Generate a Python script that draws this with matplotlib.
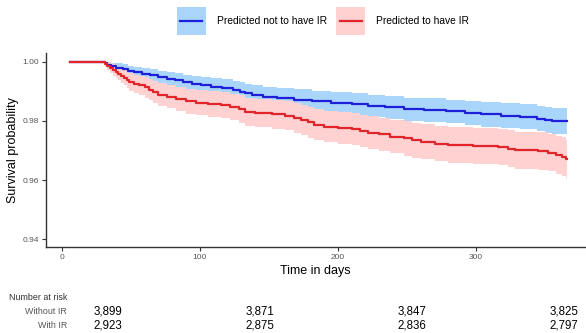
import matplotlib
matplotlib.use("Agg")
import matplotlib.pyplot as plt
from matplotlib.patches import Patch, Rectangle
from matplotlib.lines import Line2D
from matplotlib.legend_handler import HandlerBase

plt.rcParams['font.family'] = ['Liberation Sans', 'DejaVu Sans']

# Kaplan-Meier steps (days, survival, 95% band)
dias_sin = [6, 31, 33, 36, 39, 44, 48, 52, 58, 64,
            70, 76, 82, 88, 94, 101, 108, 116, 124, 129,
            133, 138, 146, 156, 168, 181, 195, 210, 222, 234,
            248, 262, 278, 292, 304, 318, 332, 344, 350, 355, 366]
surv_sin = [1.0000, 0.9995, 0.9990, 0.9985, 0.9980, 0.9975, 0.9970, 0.9964, 0.9959, 0.9954,
            0.9948, 0.9943, 0.9937, 0.9930, 0.9925, 0.9921, 0.9916, 0.9911, 0.9905, 0.9899,
            0.9893, 0.9887, 0.9882, 0.9877, 0.9872, 0.9866, 0.9861, 0.9856, 0.9851, 0.9846,
            0.9840, 0.9836, 0.9832, 0.9827, 0.9822, 0.9818, 0.9814, 0.9808, 0.9803, 0.9798, 0.9798]
sup_sin = [1.0000, 1.0000, 1.0000, 0.9997, 0.9994, 0.9991, 0.9987, 0.9983, 0.9979, 0.9975,
           0.9970, 0.9966, 0.9962, 0.9956, 0.9952, 0.9949, 0.9944, 0.9940, 0.9935, 0.9930,
           0.9925, 0.9920, 0.9916, 0.9911, 0.9907, 0.9902, 0.9898, 0.9893, 0.9889, 0.9884,
           0.9879, 0.9876, 0.9872, 0.9868, 0.9863, 0.9860, 0.9856, 0.9851, 0.9847, 0.9842, 0.9842]
inf_sin = [1.0000, 0.9988, 0.9980, 0.9973, 0.9966, 0.9959, 0.9953, 0.9945, 0.9939, 0.9933,
           0.9926, 0.9920, 0.9912, 0.9904, 0.9898, 0.9893, 0.9888, 0.9882, 0.9875, 0.9868,
           0.9861, 0.9854, 0.9848, 0.9843, 0.9837, 0.9830, 0.9824, 0.9819, 0.9813, 0.9808,
           0.9801, 0.9796, 0.9792, 0.9786, 0.9781, 0.9776, 0.9772, 0.9765, 0.9759, 0.9754, 0.9754]

dias_con = [6, 31, 33, 35, 37, 39, 41, 43, 45, 47,
            49, 52, 56, 60, 63, 66, 70, 76, 83, 90,
            97, 106, 115, 122, 128, 133, 140, 152, 162, 168,
            173, 178, 183, 190, 200, 210, 216, 222, 230, 238,
            248, 254, 260, 270, 280, 298, 316, 323, 328, 345,
            352, 358, 362, 365, 366]
surv_con = [1.0000, 0.9993, 0.9986, 0.9979, 0.9972, 0.9966, 0.9960, 0.9953, 0.9946, 0.9939,
            0.9932, 0.9925, 0.9920, 0.9913, 0.9905, 0.9897, 0.9889, 0.9882, 0.9874, 0.9866,
            0.9861, 0.9857, 0.9853, 0.9847, 0.9840, 0.9831, 0.9826, 0.9822, 0.9817, 0.9810,
            0.9803, 0.9795, 0.9787, 0.9781, 0.9777, 0.9773, 0.9766, 0.9760, 0.9754, 0.9747,
            0.9741, 0.9735, 0.9729, 0.9723, 0.9718, 0.9715, 0.9712, 0.9706, 0.9701, 0.9698,
            0.9692, 0.9686, 0.9679, 0.9671, 0.9671]
sup_con = [1.0000, 1.0000, 0.9999, 0.9995, 0.9991, 0.9987, 0.9983, 0.9978, 0.9972, 0.9967,
           0.9962, 0.9956, 0.9952, 0.9947, 0.9940, 0.9934, 0.9927, 0.9921, 0.9914, 0.9908,
           0.9903, 0.9900, 0.9897, 0.9892, 0.9886, 0.9878, 0.9873, 0.9870, 0.9866, 0.9860,
           0.9854, 0.9847, 0.9840, 0.9834, 0.9831, 0.9827, 0.9821, 0.9816, 0.9810, 0.9804,
           0.9799, 0.9794, 0.9788, 0.9783, 0.9778, 0.9776, 0.9773, 0.9768, 0.9763, 0.9761,
           0.9755, 0.9750, 0.9744, 0.9736, 0.9736]
inf_con = [1.0000, 0.9983, 0.9973, 0.9963, 0.9953, 0.9945, 0.9937, 0.9928, 0.9920, 0.9911,
           0.9902, 0.9894, 0.9888, 0.9879, 0.9870, 0.9860, 0.9851, 0.9843, 0.9834, 0.9824,
           0.9819, 0.9814, 0.9809, 0.9802, 0.9794, 0.9784, 0.9779, 0.9774, 0.9768, 0.9760,
           0.9752, 0.9743, 0.9734, 0.9728, 0.9723, 0.9719, 0.9711, 0.9704, 0.9698, 0.9690,
           0.9683, 0.9676, 0.9670, 0.9663, 0.9658, 0.9654, 0.9651, 0.9644, 0.9639, 0.9635,
           0.9629, 0.9622, 0.9614, 0.9606, 0.9606]

etiquetas = ["Predicted not to have IR", "Predicted to have IR"]
filas_riesgo = ["Without IR", "With IR"]
tiempos_riesgo = [0, 100, 200, 300]
riesgo_sin = ["3,899", "3,871", "3,847", "3,825"]
riesgo_con = ["2,923", "2,875", "2,836", "2,797"]

AZUL, AZUL_BANDA = "#1f1fd8", "#a9d5fb"
ROJO, ROJO_BANDA = "#e0262b", "#ffd1d1"
GRIS = "#555555"


class BandaConLinea(HandlerBase):
    # caja de la banda con la linea centrada encima, como en ggplot
    def create_artists(self, legend, orig_handle, xdescent, ydescent,
                       width, height, fontsize, trans):
        parche, linea = orig_handle
        caja = Rectangle((-xdescent, -ydescent), width, height,
                         facecolor=parche.get_facecolor(), lw=0, transform=trans)
        yc = -ydescent + height / 2
        ln = Line2D([-xdescent + width * 0.12, -xdescent + width * 0.88], [yc, yc],
                    color=linea.get_color(), lw=linea.get_linewidth(), transform=trans)
        return [caja, ln]


W, H = 586, 333
fig = plt.figure(figsize=(W / 100, H / 100), dpi=100)

# panel: left 45.5px, right 586px, top 53px, bottom 247px
ax = fig.add_axes([45.5 / W, 1 - 247 / H, (586 - 45.5) / W, (247 - 53) / H])

ax.fill_between(dias_sin, inf_sin, sup_sin, step='post', color=AZUL_BANDA, lw=0)
ax.fill_between(dias_con, inf_con, sup_con, step='post', color=ROJO_BANDA, lw=0)
ax.step(dias_sin, surv_sin, where='post', color=AZUL, lw=1.6)
ax.step(dias_con, surv_con, where='post', color=ROJO, lw=1.6)

ax.set_xlim(-11.8, 379.7)
ax.set_ylim(0.93738, 1.00294)
ax.set_xticks([0, 100, 200, 300])
ax.set_yticks([0.94, 0.96, 0.98, 1.00])
ax.set_yticklabels(["0.94", "0.96", "0.98", "1.00"])
for s in ["top", "right"]:
    ax.spines[s].set_visible(False)
for s in ["left", "bottom"]:
    ax.spines[s].set_color("#333333")
    ax.spines[s].set_linewidth(1.0)
ax.tick_params(length=3, width=0.8, color="#333333", labelsize=6, labelcolor=GRIS, pad=2)

ax.set_xlabel("Time in days", fontsize=9, labelpad=3)
ax.set_ylabel("Survival probability", fontsize=9, labelpad=2)

# leyenda arriba
handles = [(Patch(facecolor=AZUL_BANDA, lw=0), Line2D([], [], color=AZUL, lw=1.6)),
           (Patch(facecolor=ROJO_BANDA, lw=0), Line2D([], [], color=ROJO, lw=1.6))]
fig.legend(handles, etiquetas, handler_map={tuple: BandaConLinea()},
           loc='center', bbox_to_anchor=(0.5 + 30 / W, 1 - 21 / H), ncol=2, frameon=False,
           fontsize=7.4, handlelength=2.8, handleheight=3.8, handletextpad=1.1,
           columnspacing=0.9, borderpad=0)

# tabla de numero en riesgo
ax_r = fig.add_axes([0, 0, 1, 1])
ax_r.set_xlim(-107.5 / 1.52, (W - 107.5) / 1.52)
ax_r.set_ylim(H, 0)
ax_r.axis("off")
fig.text(9 / W, 1 - 297 / H, "Number at risk", fontsize=6.4, color="#333333", va='center', ha='left')
for fila, y in zip(filas_riesgo, [311, 326]):
    fig.text(67 / W, 1 - y / H, fila, fontsize=6.4, color=GRIS, va='center', ha='right')
for t, a, b in zip(tiempos_riesgo, riesgo_sin, riesgo_con):
    ax_r.text(t, 311, a, fontsize=8.3, ha='center', va='center')
    ax_r.text(t, 326, b, fontsize=8.3, ha='center', va='center')

fig.savefig("out.png", dpi=100)
